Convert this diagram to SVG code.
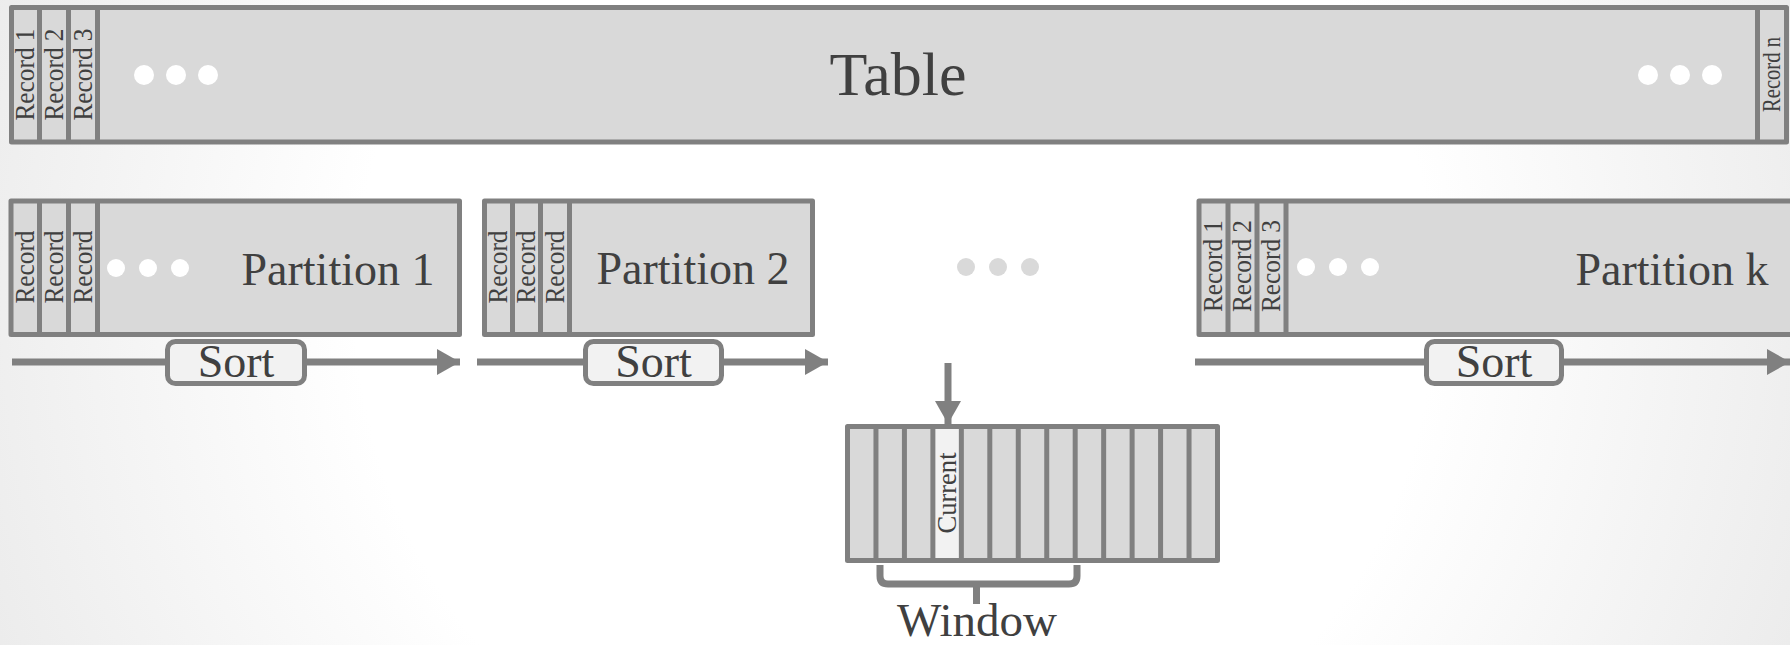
<svg xmlns="http://www.w3.org/2000/svg" width="1790" height="645" viewBox="0 0 1790 645">
<defs>
<radialGradient id="bg" gradientUnits="userSpaceOnUse" cx="895" cy="300" r="980">
<stop offset="0" stop-color="#ffffff"/>
<stop offset="0.55" stop-color="#ffffff"/>
<stop offset="1" stop-color="#ebebeb"/>
</radialGradient>
<marker id="ah" markerUnits="userSpaceOnUse" markerWidth="24" markerHeight="26" refX="23" refY="13" orient="auto">
<path d="M0,0 L23,13 L0,26 Z" fill="#808080"/>
</marker>
</defs>
<style>
.box{fill:#d9d9d9;stroke:#808080;stroke-width:5;stroke-linejoin:round}
.div{stroke:#808080;stroke-width:5}
.lbl{font-family:"Liberation Serif",serif;fill:#404040}
.rec{font-family:"Liberation Serif",serif;fill:#404040;font-size:27px;text-anchor:middle}
.dot{fill:#ffffff}
.gdot{fill:#d9d9d9}
.conn{stroke:#808080;stroke-width:7;fill:none}
.sortbox{fill:#f2f2f2;stroke:#808080;stroke-width:5}
</style>
<rect width="1790" height="645" fill="url(#bg)"/>

<g id="table">
<rect class="box" x="11.5" y="7.5" width="1775" height="134.5"/>
<line class="div" x1="39.5" y1="7.5" x2="39.5" y2="142"/>
<line class="div" x1="68.5" y1="7.5" x2="68.5" y2="142"/>
<line class="div" x1="97.5" y1="7.5" x2="97.5" y2="142"/>
<line class="div" x1="1757.5" y1="7.5" x2="1757.5" y2="142"/>
<text class="rec" transform="translate(25.5,74.5) rotate(-90)" y="8.5" textLength="92" lengthAdjust="spacingAndGlyphs">Record 1</text>
<text class="rec" transform="translate(54,74.5) rotate(-90)" y="8.5" textLength="92" lengthAdjust="spacingAndGlyphs">Record 2</text>
<text class="rec" transform="translate(83,74.5) rotate(-90)" y="8.5" textLength="92" lengthAdjust="spacingAndGlyphs">Record 3</text>
<text class="rec" transform="translate(1772,74.5) rotate(-90)" y="8" style="font-size:25px" textLength="75" lengthAdjust="spacingAndGlyphs">Record n</text>
<circle class="dot" cx="144" cy="75" r="10"/>
<circle class="dot" cx="176" cy="75" r="10"/>
<circle class="dot" cx="208" cy="75" r="10"/>
<circle class="dot" cx="1648" cy="75" r="10"/>
<circle class="dot" cx="1680" cy="75" r="10"/>
<circle class="dot" cx="1712" cy="75" r="10"/>
<text class="lbl" x="898" y="95" font-size="62" text-anchor="middle">Table</text>
</g>

<g id="partition1">
<rect class="box" x="11" y="201" width="448.5" height="133.5"/>
<line class="div" x1="39.5" y1="201" x2="39.5" y2="334.5"/>
<line class="div" x1="68.5" y1="201" x2="68.5" y2="334.5"/>
<line class="div" x1="97.5" y1="201" x2="97.5" y2="334.5"/>
<text class="rec" transform="translate(25.25,267) rotate(-90)" y="8.5" textLength="73" lengthAdjust="spacingAndGlyphs">Record</text>
<text class="rec" transform="translate(54,267) rotate(-90)" y="8.5" textLength="73" lengthAdjust="spacingAndGlyphs">Record</text>
<text class="rec" transform="translate(83,267) rotate(-90)" y="8.5" textLength="73" lengthAdjust="spacingAndGlyphs">Record</text>
<circle class="dot" cx="116" cy="268" r="9"/>
<circle class="dot" cx="148" cy="268" r="9"/>
<circle class="dot" cx="180" cy="268" r="9"/>
<text class="lbl" x="338" y="285" font-size="46" text-anchor="middle">Partition 1</text>
</g>

<g id="partition2">
<rect class="box" x="484.5" y="201" width="328" height="133.5"/>
<line class="div" x1="512.5" y1="201" x2="512.5" y2="334.5"/>
<line class="div" x1="540.5" y1="201" x2="540.5" y2="334.5"/>
<line class="div" x1="569.5" y1="201" x2="569.5" y2="334.5"/>
<text class="rec" transform="translate(498.5,267) rotate(-90)" y="8.5" textLength="73" lengthAdjust="spacingAndGlyphs">Record</text>
<text class="rec" transform="translate(526.5,267) rotate(-90)" y="8.5" textLength="73" lengthAdjust="spacingAndGlyphs">Record</text>
<text class="rec" transform="translate(555,267) rotate(-90)" y="8.5" textLength="73" lengthAdjust="spacingAndGlyphs">Record</text>
<text class="lbl" x="693" y="284" font-size="46" text-anchor="middle">Partition 2</text>
</g>

<g id="gap-dots">
<circle class="gdot" cx="966" cy="267" r="9"/>
<circle class="gdot" cx="998" cy="267" r="9"/>
<circle class="gdot" cx="1030" cy="267" r="9"/>
</g>

<g id="partitionk">
<rect class="box" x="1199" y="201" width="620" height="133.5"/>
<line class="div" x1="1228" y1="201" x2="1228" y2="334.5"/>
<line class="div" x1="1257" y1="201" x2="1257" y2="334.5"/>
<line class="div" x1="1286" y1="201" x2="1286" y2="334.5"/>
<text class="rec" transform="translate(1213.5,266) rotate(-90)" y="8.5" textLength="92" lengthAdjust="spacingAndGlyphs">Record 1</text>
<text class="rec" transform="translate(1242.5,266) rotate(-90)" y="8.5" textLength="92" lengthAdjust="spacingAndGlyphs">Record 2</text>
<text class="rec" transform="translate(1271.5,266) rotate(-90)" y="8.5" textLength="92" lengthAdjust="spacingAndGlyphs">Record 3</text>
<circle class="dot" cx="1306" cy="267" r="9"/>
<circle class="dot" cx="1338" cy="267" r="9"/>
<circle class="dot" cx="1370" cy="267" r="9"/>
<text class="lbl" x="1672" y="285" font-size="46" text-anchor="middle">Partition k</text>
</g>

<g id="connectors">
<line class="conn" x1="12" y1="362" x2="460" y2="362" marker-end="url(#ah)"/>
<line class="conn" x1="477" y1="362" x2="828" y2="362" marker-end="url(#ah)"/>
<line class="conn" x1="1195" y1="362" x2="1790" y2="362" marker-end="url(#ah)"/>
<line class="conn" x1="948" y1="363" x2="948" y2="424" marker-end="url(#ah)"/>
</g>

<g id="sort1">
<rect class="sortbox" x="167.5" y="341.5" width="137" height="42" rx="8"/>
<text class="lbl" x="236" y="377" font-size="46" text-anchor="middle">Sort</text>
</g>
<g id="sort2">
<rect class="sortbox" x="585.5" y="341.5" width="136" height="42" rx="8"/>
<text class="lbl" x="653.5" y="377" font-size="46" text-anchor="middle">Sort</text>
</g>
<g id="sortk">
<rect class="sortbox" x="1426.5" y="341.5" width="135" height="42" rx="8"/>
<text class="lbl" x="1494" y="377" font-size="46" text-anchor="middle">Sort</text>
</g>

<g id="window">
<rect class="box" x="847.5" y="426.5" width="370" height="134"/>
<rect x="932.9" y="429" width="28.5" height="129" fill="#f2f2f2"/>
<line class="div" x1="875.96" y1="426.5" x2="875.96" y2="560.5"/>
<line class="div" x1="904.42" y1="426.5" x2="904.42" y2="560.5"/>
<line class="div" x1="932.88" y1="426.5" x2="932.88" y2="560.5"/>
<line class="div" x1="961.35" y1="426.5" x2="961.35" y2="560.5"/>
<line class="div" x1="989.81" y1="426.5" x2="989.81" y2="560.5"/>
<line class="div" x1="1018.27" y1="426.5" x2="1018.27" y2="560.5"/>
<line class="div" x1="1046.73" y1="426.5" x2="1046.73" y2="560.5"/>
<line class="div" x1="1075.19" y1="426.5" x2="1075.19" y2="560.5"/>
<line class="div" x1="1103.65" y1="426.5" x2="1103.65" y2="560.5"/>
<line class="div" x1="1132.12" y1="426.5" x2="1132.12" y2="560.5"/>
<line class="div" x1="1160.58" y1="426.5" x2="1160.58" y2="560.5"/>
<line class="div" x1="1189.04" y1="426.5" x2="1189.04" y2="560.5"/>
<text class="rec" transform="translate(947.1,493) rotate(-90)" y="8.5" textLength="81" lengthAdjust="spacingAndGlyphs">Current</text>
<path d="M880,565 V576 Q880,584 888,584 H1069 Q1077,584 1077,576 V565 M976.5,584 V604" fill="none" stroke="#808080" stroke-width="7" stroke-linejoin="round"/>
<text class="lbl" x="977" y="636" font-size="47" text-anchor="middle">Window</text>
</g>
</svg>
